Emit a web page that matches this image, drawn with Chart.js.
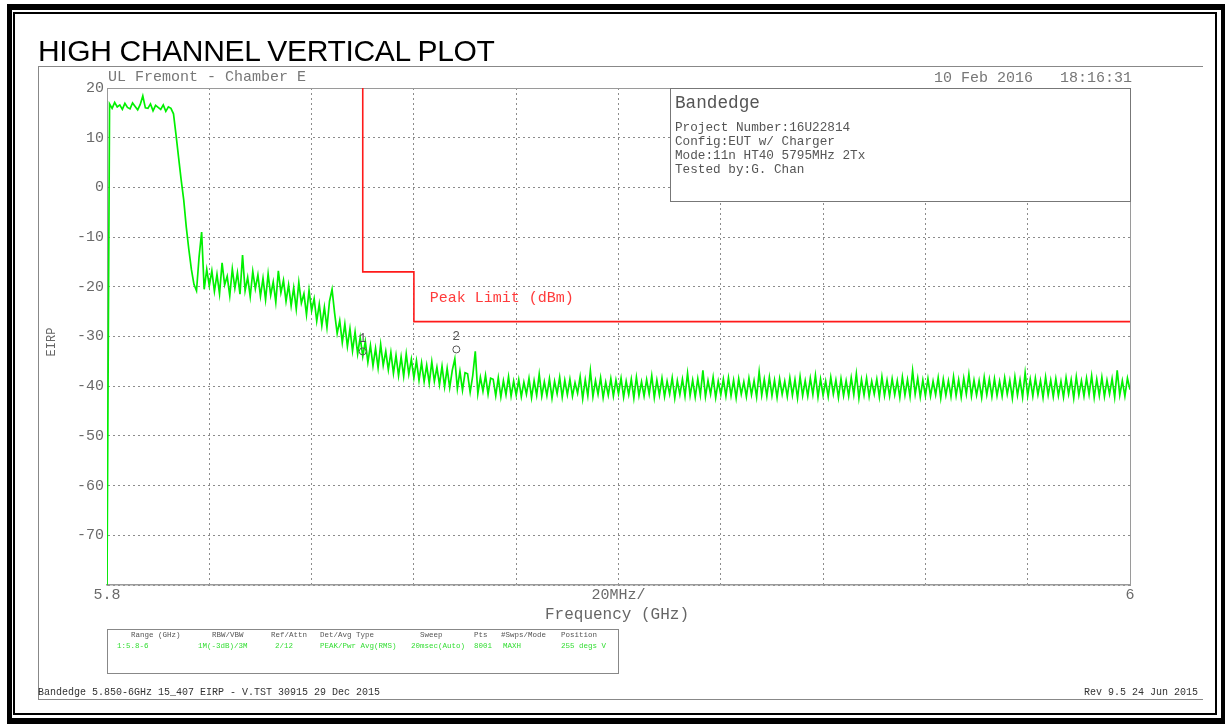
<!DOCTYPE html>
<html>
<head>
<meta charset="utf-8">
<script src="https://cdn.jsdelivr.net/npm/chart.js@4.4.1/dist/chart.umd.min.js"></script>
<style>
html,body{margin:0;padding:0;background:#fff;}
#wrap{position:relative;width:1225px;height:724px;overflow:hidden;background:#fff;}
#c{position:absolute;left:0;top:0;}
.t{position:absolute;white-space:pre;font-family:"Liberation Mono","DejaVu Sans Mono",monospace;line-height:1;color:#666;}
.box{position:absolute;box-sizing:border-box;}
</style>
</head>
<body>
<div id="wrap">
  <canvas id="c" width="1225" height="724"></canvas>

  <!-- page frames -->
  <div class="box" style="left:7px;top:4px;width:1218px;height:720px;border-style:solid;border-color:#000;border-width:6px 4px 6px 5px;"></div>
  <div class="box" style="left:13px;top:12px;width:1204px;height:703px;border:2px solid #000;"></div>
  <div class="box" style="left:38px;top:66px;width:1165px;height:634px;border-top:1px solid #888;border-left:1px solid #888;border-bottom:1px solid #888;"></div>

  <div class="t" style="left:38px;top:35.6px;font-family:'Liberation Sans',Arial,sans-serif;font-size:30px;letter-spacing:-0.35px;color:#000;">HIGH CHANNEL VERTICAL PLOT</div>

  <div class="t" style="left:108px;top:69.5px;font-size:15px;color:#777;">UL Fremont - Chamber E</div>
  <div class="t" style="right:93px;top:70.5px;font-size:15px;color:#777;">10 Feb 2016   18:16:31</div>

  <!-- info box -->
  <div class="box" style="left:670px;top:88px;width:461px;height:114px;border:1px solid #777;background:#fff;"></div>
  <div class="t" style="left:675px;top:95px;font-size:17.7px;color:#555;">Bandedge</div>
  <div class="t" style="left:675px;top:121.6px;font-size:12.7px;color:#555;">Project Number:16U22814</div>
  <div class="t" style="left:675px;top:135.6px;font-size:12.7px;color:#555;">Config:EUT w/ Charger</div>
  <div class="t" style="left:675px;top:149.6px;font-size:12.7px;color:#555;">Mode:11n HT40 5795MHz 2Tx</div>
  <div class="t" style="left:675px;top:163.6px;font-size:12.7px;color:#555;">Tested by:G. Chan</div>

  <!-- axis titles -->
  <div class="t" style="left:545px;top:607px;font-size:16px;color:#666;">Frequency (GHz)</div>
  <div class="t" style="left:52px;top:342px;font-size:12px;color:#666;transform:translate(-50%,-50%) rotate(-90deg);">EIRP</div>

  <!-- settings table -->
  <div class="box" style="left:107px;top:629px;width:512px;height:45px;border:1px solid #888;"></div>
  <div class="t" style="left:131px;top:632px;font-size:7.5px;color:#555;">Range (GHz)</div>
  <div class="t" style="left:212px;top:632px;font-size:7.5px;color:#555;">RBW/VBW</div>
  <div class="t" style="left:271px;top:632px;font-size:7.5px;color:#555;">Ref/Attn</div>
  <div class="t" style="left:320px;top:632px;font-size:7.5px;color:#555;">Det/Avg Type</div>
  <div class="t" style="left:420px;top:632px;font-size:7.5px;color:#555;">Sweep</div>
  <div class="t" style="left:474px;top:632px;font-size:7.5px;color:#555;">Pts</div>
  <div class="t" style="left:501px;top:632px;font-size:7.5px;color:#555;">#Swps/Mode</div>
  <div class="t" style="left:561px;top:632px;font-size:7.5px;color:#555;">Position</div>
  <div class="t" style="left:117px;top:642.7px;font-size:7.5px;color:#33dd33;">1:5.8-6</div>
  <div class="t" style="left:198px;top:642.7px;font-size:7.5px;color:#33dd33;">1M(-3dB)/3M</div>
  <div class="t" style="left:275px;top:642.7px;font-size:7.5px;color:#33dd33;">2/12</div>
  <div class="t" style="left:320px;top:642.7px;font-size:7.5px;color:#33dd33;">PEAK/Pwr Avg(RMS)</div>
  <div class="t" style="left:411px;top:642.7px;font-size:7.5px;color:#33dd33;">20msec(Auto)</div>
  <div class="t" style="left:474px;top:642.7px;font-size:7.5px;color:#33dd33;">8001</div>
  <div class="t" style="left:503px;top:642.7px;font-size:7.5px;color:#33dd33;">MAXH</div>
  <div class="t" style="left:561px;top:642.7px;font-size:7.5px;color:#33dd33;">255 degs V</div>

  <!-- footer -->
  <div class="t" style="left:38px;top:688px;font-size:10px;color:#333;">Bandedge 5.850-6GHz 15_407 EIRP - V.TST 30915 29 Dec 2015</div>
  <div class="t" style="right:27px;top:688px;font-size:10px;color:#333;">Rev 9.5 24 Jun 2015</div>
</div>

<script>
// ---------------- DATA ----------------
// Sweep sample grid (GHz): 401 samples across 5.8 - 6.0 GHz
const freqStartGHz = 5.8;
const freqStepGHz = 0.0005;

// Trace EIRP readings (dBm), one per sample
const traceDBm = [
  -80,
  16.8,15.9,17.1,16.2,16.6,15.7,16.9,16.1,15.8,17.0,
  16.3,15.6,16.7,18.4,16.0,15.9,16.8,15.4,16.5,16.1,
  15.7,16.6,15.3,16.2,15.9,
  14.8,10.5,6.0,1.5,-2.5,-8.0,-12.5,-16.5,-19.5,-20.8,
  -14.0,-9.0,-20.5,-16.5,-19.8,
  -16.8,-20.9,-17.5,-21.4,-15.2,-19.6,-17.9,-21.8,-16.4,-20.3,
  -17.2,-21.5,-13.6,-20.8,-18.1,-22.0,-16.9,-20.4,-17.6,-21.9,
  -18.3,-22.6,-17.4,-21.7,-19.0,-23.1,-16.8,-21.2,-18.7,-22.9,
  -19.6,-23.8,-20.2,-24.5,-19.1,-23.3,-21.4,-25.6,-20.7,-24.8,
  -22.4,-26.9,-23.5,-27.8,-24.1,-28.2,-22.9,-20.5,-25.3,-29.4,
  -26.8,-31.2,-27.5,-32.0,-28.4,-32.9,-29.1,-33.5,-30.2,-34.0,
  -31.0,-35.2,-31.8,-35.9,-32.4,-36.3,-31.6,-35.8,-33.0,-36.7,
  -33.2,-37.4,-33.8,-37.9,-34.1,-38.0,-33.5,-37.6,-34.6,-38.3,
  -34.9,-38.8,-35.3,-39.1,-35.8,-39.4,-35.1,-39.0,-36.2,-39.7,
  -36.0,-40.1,-36.4,-40.3,-36.8,-34.5,-40.5,-37.0,-40.8,-37.3,
  -37.5,-41.2,-37.9,-33.0,-41.5,-38.2,-41.0,-37.8,-41.6,-38.4,
  -38.6,-41.9,-38.3,-42.2,-38.9,-41.7,-38.1,-42.0,-39.0,-41.8,
  -38.7,-42.1,-39.2,-41.6,-38.4,-42.3,-38.9,-41.8,-37.6,-42.0,
  -39.1,-41.9,-38.5,-42.4,-39.0,-41.5,-38.2,-42.2,-38.8,-41.7,
  -38.6,-42.0,-39.3,-41.4,-38.1,-42.5,-38.7,-41.9,-36.9,-42.1,
  -38.9,-41.6,-38.3,-42.3,-39.2,-41.8,-38.5,-42.0,-38.8,-41.5,
  -38.4,-42.2,-39.0,-41.7,-38.6,-42.4,-38.2,-41.9,-39.1,-42.0,
  -38.7,-41.6,-37.9,-42.3,-38.8,-41.8,-38.4,-42.1,-39.0,-41.6,
  -38.3,-42.4,-38.9,-41.7,-38.6,-42.0,-37.4,-41.9,-38.8,-42.2,
  -38.5,-41.8,-36.8,-42.1,-38.9,-41.6,-38.2,-42.3,-39.0,-41.7,
  -38.6,-42.0,-38.3,-41.9,-38.8,-42.4,-38.5,-41.6,-39.1,-42.1,
  -38.4,-41.7,-38.9,-42.2,-37.1,-41.8,-38.6,-42.0,-38.2,-41.9,
  -38.8,-42.3,-38.5,-41.6,-39.0,-42.1,-38.3,-41.8,-38.7,-42.4,
  -38.1,-41.9,-38.9,-42.0,-38.4,-41.7,-37.8,-42.2,-38.6,-41.8,
  -39.0,-42.1,-38.2,-41.6,-38.8,-42.3,-38.5,-41.9,-38.9,-42.0,
  -38.3,-41.7,-37.5,-42.4,-38.7,-41.8,-38.4,-42.1,-39.0,-41.6,
  -38.6,-42.2,-38.1,-41.9,-38.8,-42.0,-38.5,-41.7,-38.9,-42.3,
  -38.2,-41.8,-38.7,-42.1,-36.9,-41.6,-38.4,-42.2,-38.8,-41.9,
  -38.5,-42.0,-39.0,-41.7,-38.3,-42.4,-38.6,-41.8,-38.9,-42.1,
  -38.1,-41.9,-38.7,-42.2,-38.4,-41.6,-37.6,-42.0,-38.8,-41.8,
  -38.9,-42.3,-38.2,-41.7,-38.6,-42.1,-38.5,-41.9,-39.0,-42.0,
  -38.3,-41.6,-38.8,-42.4,-38.1,-41.8,-38.7,-42.2,-37.3,-41.9,
  -38.6,-42.0,-38.4,-41.7,-38.9,-42.3,-38.2,-41.8,-38.8,-42.1,
  -38.5,-41.9,-39.0,-42.2,-38.3,-41.6,-38.7,-42.4,-38.1,-41.8,
  -38.9,-42.0,-38.4,-41.7,-37.9,-42.3,-38.6,-41.9,-38.2,-42.1,
  -38.8,-41.6,-38.5,-42.2,-36.8,-41.8,-38.9,-42.0,-38.4,-40.7
];

// Peak limit line (step shape)
const limitFreqGHz = [5.85, 5.85, 5.86, 5.86, 6.0];
const limitDBm     = [20, -17, -17, -27, -27];
const limitLabel   = 'Peak Limit (dBm)';
const limitLabelAt = [5.8631, -22.3];

// Markers
const markerFreqGHz = [5.85, 5.8683];
const markerDBm     = [-33.0, -32.6];
const markerLabels  = ['1', '2'];

// Axis ticks
const xMinGHz = 5.8, xMaxGHz = 6.0, xStepGHz = 0.02;
const xLabelValues = [5.8, 5.9, 6.0];
const xLabelTexts  = ['5.8', '20MHz/', '6'];
const yMin = -80, yMax = 20, yStep = 10;
const yHiddenLabels = [-80];

// ---------------- CHART ----------------
const monoFont = "'Liberation Mono','DejaVu Sans Mono',monospace";
const axisGray = '#6a6a6a';

const traceData = traceDBm.map((v, i) => ({ x: freqStartGHz + i * freqStepGHz, y: v }));
const limitData = limitFreqGHz.map((f, i) => ({ x: f, y: limitDBm[i] }));
const markerData = markerFreqGHz.map((f, i) => ({ x: f, y: markerDBm[i] }));

const ctx = document.getElementById('c').getContext('2d');
const chart = new Chart(ctx, {
  type: 'line',
  data: {
    datasets: [
      { label: 'Markers', data: markerData, showLine: false, pointRadius: 3.5,
        pointBorderColor: '#555', pointBackgroundColor: 'rgba(0,0,0,0)', pointBorderWidth: 1, order: 0 },
      { label: limitLabel, data: limitData, borderColor: '#ff1a1a', borderWidth: 1.6,
        pointRadius: 0, tension: 0, fill: false, order: 1 },
      { label: 'Trace', data: traceData, borderColor: '#00f000', borderWidth: 1.7,
        pointRadius: 0, tension: 0, fill: false, order: 2 }
    ]
  },
  options: {
    responsive: false,
    animation: false,
    events: [],
    layout: { padding: { left: 0, top: 88, right: 95, bottom: 109 } },
    plugins: { legend: { display: false }, tooltip: { enabled: false }, title: { display: false } },
    scales: {
      x: {
        type: 'linear', position: 'bottom', min: xMinGHz, max: xMaxGHz,
        ticks: {
          stepSize: xStepGHz, autoSkip: false, maxRotation: 0, padding: 1,
          color: axisGray, font: { family: monoFont, size: 15 },
          callback: (v) => {
            const k = xLabelValues.findIndex(t => Math.abs(t - v) < 1e-6);
            return k >= 0 ? xLabelTexts[k] : '';
          }
        },
        grid: { color: '#8c8c8c', lineWidth: 1, drawTicks: false },
        border: { display: true, color: '#9a9a9a', width: 1.5, dash: [2, 3] },
        afterFit: (s) => { s.height = 30; }
      },
      y: {
        type: 'linear', position: 'left', min: yMin, max: yMax,
        ticks: {
          stepSize: yStep, padding: 3, color: axisGray, font: { family: monoFont, size: 15 },
          callback: (v) => yHiddenLabels.includes(v) ? '' : String(v)
        },
        grid: { color: '#8c8c8c', lineWidth: 1, drawTicks: false },
        border: { display: true, color: '#9a9a9a', width: 1, dash: [2, 3] },
        afterFit: (s) => { s.width = 107; }
      },
      xTop: {
        type: 'linear', position: 'top', min: xMinGHz, max: xMaxGHz,
        ticks: { display: false }, grid: { display: false, drawTicks: false },
        border: { display: true, color: '#9a9a9a', width: 1 },
        afterFit: (s) => { s.height = 0; }
      },
      yRight: {
        type: 'linear', position: 'right', min: yMin, max: yMax,
        ticks: { display: false }, grid: { display: false, drawTicks: false },
        border: { display: true, color: '#9a9a9a', width: 1 },
        afterFit: (s) => { s.width = 0; }
      }
    }
  }
});

// Annotation texts placed through the chart's own scales
const wrap = document.getElementById('wrap');
const xs = chart.scales.x, ys = chart.scales.y;
function addText(txt, left, top, size, color) {
  const d = document.createElement('div');
  d.className = 't';
  d.textContent = txt;
  d.style.left = left + 'px';
  d.style.top = top + 'px';
  d.style.fontSize = size + 'px';
  d.style.color = color;
  wrap.appendChild(d);
  return d;
}
markerFreqGHz.forEach((f, i) => {
  const px = xs.getPixelForValue(f), py = ys.getPixelForValue(markerDBm[i]);
  addText(markerLabels[i], px - 4, py - 19, 13, '#555');
});
addText(limitLabel, xs.getPixelForValue(limitLabelAt[0]), ys.getPixelForValue(limitLabelAt[1]) - 7.5, 15, '#ff3b3b');
</script>
</body>
</html>
